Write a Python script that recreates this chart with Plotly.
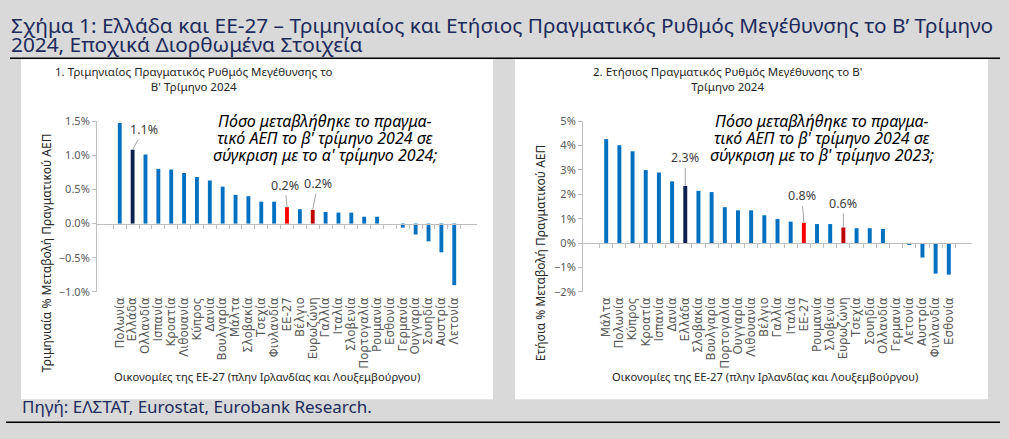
import plotly.graph_objects as go

# data
q_countries = ['Πολωνία', 'Ελλάδα', 'Ολλανδία', 'Ισπανία', 'Κροατία', 'Λιθουανία', 'Κύπρος',
               'Δανία', 'Βουλγαρία', 'Μάλτα', 'Σλοβακία', 'Τσεχία', 'Φινλανδία', 'ΕΕ-27',
               'Βέλγιο', 'Ευρωζώνη', 'Γαλλία', 'Ιταλία', 'Σλοβενία', 'Πορτογαλία', 'Ρουμανία',
               'Εσθονία', 'Γερμανία', 'Ουγγαρία', 'Σουηδία', 'Αυστρία', 'Λετονία']
q_growth = [1.47, 1.08, 1.01, 0.80, 0.79, 0.74, 0.68, 0.63, 0.54, 0.42, 0.40, 0.32, 0.32, 0.24,
            0.21, 0.20, 0.17, 0.16, 0.16, 0.10, 0.10, 0.0, -0.06, -0.16, -0.26, -0.42, -0.90]

y_countries = ['Μάλτα', 'Πολωνία', 'Κύπρος', 'Κροατία', 'Ισπανία', 'Δανία', 'Ελλάδα',
               'Σλοβακία', 'Βουλγαρία', 'Πορτογαλία', 'Ουγγαρία', 'Λιθουανία', 'Βέλγιο',
               'Γαλλία', 'Ιταλία', 'ΕΕ-27', 'Ρουμανία', 'Σλοβενία', 'Ευρωζώνη', 'Τσεχία',
               'Σουηδία', 'Ολλανδία', 'Γερμανία', 'Λετονία', 'Αυστρία', 'Φινλανδία', 'Εσθονία']
y_growth = [4.26, 4.01, 3.76, 2.99, 2.89, 2.53, 2.34, 2.14, 2.09, 1.47, 1.34, 1.34, 1.14,
            0.99, 0.88, 0.83, 0.78, 0.78, 0.64, 0.61, 0.61, 0.58, 0.0, -0.04, -0.59, -1.25, -1.29]

labelled = ['Ελλάδα', 'ΕΕ-27', 'Ευρωζώνη']

W, H = 1009, 439
FONT = 'Noto Sans'
WIDE = 'DejaVu Sans'
BLUE, NAVY, RED, DARKRED = '#0070c0', '#0f1f4f', '#ff0000', '#c00000'
AXIS = '#bfbfbf'
TICK = '#595959'
TXT = '#262626'
TITLE_COL = '#1c2a5c'


def px_x(p):
    return p / W


def px_y(p):
    return 1 - p / H


def bar_colors(names):
    special = {'Ελλάδα': NAVY, 'ΕΕ-27': RED, 'Ευρωζώνη': DARKRED}
    return [special.get(n, BLUE) for n in names]


fig = go.Figure()

# panel geometry (pixels)
panels = [
    dict(x='x', y='y', zx='x3', cats=q_countries, vals=q_growth, rng=[-1.0, 1.5], dtick=0.5,
         fmt='.1f', dom_x=[97, 477]),
    dict(x='x2', y='y2', zx='x4', cats=y_countries, vals=y_growth, rng=[-2, 5], dtick=1,
         fmt='d', dom_x=[583, 972]),
]
dom_y = [px_y(294), px_y(117)]

for i, p in enumerate(panels):
    fig.add_trace(go.Bar(x=p['cats'], y=p['vals'], xaxis=p['x'], yaxis=p['y'],
                         marker_color=bar_colors(p['cats']), marker_line_width=0,
                         showlegend=False))
    # invisible copy that carries the zero axis line with its ticks
    fig.add_trace(go.Scatter(x=p['cats'], y=p['vals'], xaxis=p['zx'], yaxis=p['y'],
                             mode='markers', marker_opacity=0, hoverinfo='skip',
                             showlegend=False))

    sfx = '' if i == 0 else '2'
    zx = p['zx'][1:]
    zero_pos = dom_y[0] + (0 - p['rng'][0]) / (p['rng'][1] - p['rng'][0]) * (dom_y[1] - dom_y[0])
    fig.update_layout(**{
        'xaxis' + sfx: dict(domain=[px_x(p['dom_x'][0]), px_x(p['dom_x'][1])], anchor=p['y'],
                            showline=False, ticks='', tickangle=-90, showgrid=False, dtick=1,
                            ticklabelstandoff=2,
                            tickfont=dict(size=11.8, color=TICK, family=WIDE)),
        'xaxis' + zx: dict(overlaying=p['x'], matches=p['x'], anchor='free', position=zero_pos,
                           showline=True, linecolor=AXIS, linewidth=1, ticks='outside',
                           tickson='boundaries', ticklen=4, tickcolor=AXIS, dtick=1,
                           showticklabels=False, showgrid=False),
        'yaxis' + sfx: dict(domain=dom_y, anchor=p['x'], range=p['rng'], dtick=p['dtick'],
                            tickformat=p['fmt'], ticksuffix='%', showgrid=False,
                            zeroline=False, showline=True, linecolor=AXIS, ticks='outside',
                            ticklen=4, tickcolor=AXIS,
                            tickfont=dict(size=11, color=TICK, family=FONT)),
    })

# background panels and rules
shapes = [
    dict(type='line', xref='paper', yref='paper', x0=px_x(10), x1=px_x(1000),
         y0=px_y(52), y1=px_y(52), line=dict(color='black', width=1.5), layer='below'),
    dict(type='rect', xref='paper', yref='paper', x0=px_x(21), x1=px_x(493),
         y0=px_y(405), y1=px_y(53), fillcolor='white', line_width=0, layer='below'),
    dict(type='rect', xref='paper', yref='paper', x0=px_x(515), x1=px_x(988),
         y0=px_y(405), y1=px_y(53), fillcolor='white', line_width=0, layer='below'),
    dict(type='line', xref='paper', yref='paper', x0=px_x(6), x1=px_x(1000),
         y0=px_y(429), y1=px_y(429), line=dict(color='black', width=1.5), layer='below'),
]

ann = []
P = dict(xref='paper', yref='paper', showarrow=False)
# main title (two lines, tight spacing) and source
title_lines = ['Σχήμα 1: Ελλάδα και ΕΕ-27 – Τριμηνιαίος και Ετήσιος Πραγματικός Ρυθμός '
               'Μεγέθυνσης το Β’ Τρίμηνο', '2024, Εποχικά Διορθωμένα Στοιχεία']
for line, yc in zip(title_lines, [18, 37]):
    ann.append(dict(text=line, x=px_x(9), y=px_y(yc), xanchor='left', yanchor='middle',
                    font=dict(size=20.8, color=TITLE_COL, family=FONT), **P))
ann.append(dict(text='Πηγή: ΕΛΣΤΑΤ, Eurostat, Eurobank Research.', x=px_x(20), y=px_y(413),
                xanchor='left', yanchor='middle',
                font=dict(size=17, color=TITLE_COL, family=FONT), **P))

# panel titles, axis titles, questions
panel_text = [
    dict(title='1. Τριμηνιαίος Πραγματικός Ρυθμός Μεγέθυνσης το<br>Β\' Τρίμηνο 2024', tx=194,
         ytitle='Τριμηνιαία % Μεταβολή Πραγματικού ΑΕΠ', yx=46, xx=267,
         note=['Πόσο μεταβλήθηκε το πραγμα-', 'τικό ΑΕΠ το β\' τρίμηνο 2024 σε',
               'σύγκριση με το α\' τρίμηνο 2024;'], nx=325),
    dict(title='2. Ετήσιος Πραγματικός Ρυθμός Μεγέθυνσης το Β\'<br>Τρίμηνο 2024', tx=727,
         ytitle='Ετήσια % Μεταβολή Πραγματικού ΑΕΠ', yx=540, xx=765,
         note=['Πόσο μεταβλήθηκε το πραγμα-', 'τικό ΑΕΠ το β\' τρίμηνο 2024 σε',
               'σύγκριση με το β\' τρίμηνο 2023;'], nx=822),
]
for t in panel_text:
    ann.append(dict(text=t['title'], x=px_x(t['tx']), y=px_y(73), xanchor='center',
                    yanchor='middle', font=dict(size=11.5, color=TXT, family=FONT), **P))
    ann.append(dict(text=t['ytitle'], x=px_x(t['yx']), y=px_y(254), textangle=-90,
                    xanchor='center', yanchor='middle',
                    font=dict(size=12, color=TXT, family=FONT), **P))
    ann.append(dict(text='Οικονομίες της ΕΕ-27 (πλην Ιρλανδίας και Λουξεμβούργου)',
                    x=px_x(t['xx']), y=px_y(382), xanchor='center', yanchor='middle',
                    font=dict(size=11.2, color=TXT, family=FONT), **P))
    for line, yc in zip(t['note'], [117, 135, 152]):
        ann.append(dict(text='<i>' + line + '</i>', x=px_x(t['nx']), y=px_y(yc),
                        xanchor='center', yanchor='middle',
                        font=dict(size=16, color='black', family=FONT), **P))

# value callouts with leader lines
offsets = {
    ('x', 'Ελλάδα'): (11, -20), ('x', 'ΕΕ-27'): (-2, -22), ('x', 'Ευρωζώνη'): (5, -26),
    ('x2', 'Ελλάδα'): (0, -28), ('x2', 'ΕΕ-27'): (-2, -27), ('x2', 'Ευρωζώνη'): (0, -24),
}
for p in panels:
    for c, v in zip(p['cats'], p['vals']):
        if c in labelled:
            ax, ay = offsets[(p['x'], c)]
            ann.append(dict(text=f'{v:.1f}%', x=c, y=v, xref=p['x'], yref=p['y'],
                            showarrow=True, arrowhead=0, arrowwidth=1, arrowcolor='#a6a6a6',
                            ax=ax, ay=ay, font=dict(size=12.5, color='#404040', family=FONT)))

fig.update_layout(width=W, height=H, margin=dict(l=0, r=0, t=0, b=0),
                  paper_bgcolor='#d9d9d9', plot_bgcolor='rgba(0,0,0,0)',
                  bargap=0.7, shapes=shapes, annotations=ann,
                  font=dict(family=FONT))

# drop the browser's default page margin so the figure sits at the window corner
fig.write_html("out.html", config={'displayModeBar': False},
               post_script="document.body.style.margin='0';")
